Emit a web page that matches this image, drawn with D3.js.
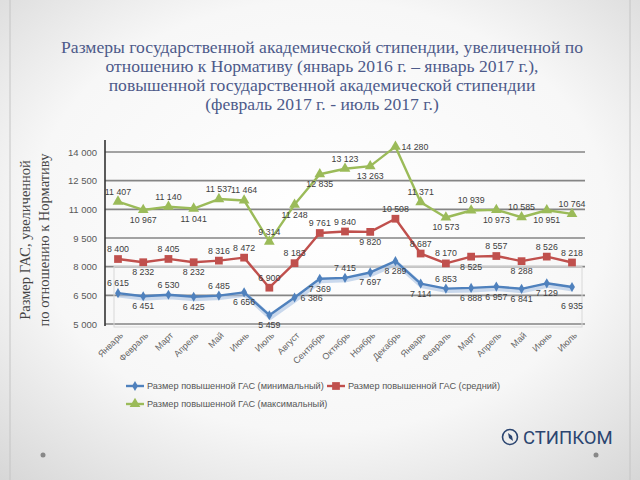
<!DOCTYPE html>
<html><head><meta charset="utf-8">
<script src="https://cdn.jsdelivr.net/npm/d3@7"></script>
<style>html,body{margin:0;padding:0;background:#fff}svg{display:block}</style>
</head><body>
<svg id="c" width="640" height="480"></svg>
<script>
const months = ["Январь","Февраль","Март","Апрель","Май","Июнь","Июль","Август","Сентябрь","Октябрь","Ноябрь","Декабрь","Январь","Февраль","Март","Апрель","Май","Июнь","Июль"];
const minValues = [6615,6451,6530,6425,6485,6656,5459,6386,7369,7415,7697,8289,7114,6853,6888,6957,6841,7129,6935];
const midValues = [8400,8232,8405,8232,8316,8472,6900,8183,9761,9840,9820,10508,8687,8170,8525,8557,8288,8526,8218];
const maxValues = [11407,10967,11140,11041,11537,11464,9314,11248,12835,13123,13263,14280,11371,10573,10939,10973,10585,10951,10764];
const yTicks = [5000,6500,8000,9500,11000,12500,14000];
const seriesNames = ["Размер повышенной ГАС (минимальный)","Размер повышенной ГАС (средний)","Размер повышенной ГАС (максимальный)"];
const titleLines = ["Размеры государственной академической стипендии, увеличенной по","отношению к Нормативу (январь 2016 г. – январь 2017 г.),","повышенной государственной академической стипендии","(февраль 2017 г. - июль 2017 г.)"];
const yTitleLines = ["Размер ГАС, увеличенной","по отношению к Нормативу"];
// label placement: a = above, b = below, r = right, B = far below
const minPlace = ["a","b","a","b","a","b","b","r","b","a","b","b","b","a","b","b","b","b","B"];
const midPlace = ["a","b","a","b","a","a","a","a","a","a","b","a","a","a","b","a","b","a","a"];
const maxPlace = ["a","b","a","b","a","a","a","b","b","a","b","r","a","b","a","b","a","b","a"];

const svg = d3.select("#c");
const defs = svg.append("defs");
const rg = defs.append("radialGradient").attr("id","bg").attr("cx","50%").attr("cy","45%").attr("r","75%");
rg.append("stop").attr("offset","0%").attr("stop-color","#ffffff");
rg.append("stop").attr("offset","60%").attr("stop-color","#f7f7f7");
rg.append("stop").attr("offset","100%").attr("stop-color","#d6d6d6");
svg.append("rect").attr("width",640).attr("height",480).attr("fill","url(#bg)");
svg.append("line").attr("x1",10).attr("x2",10).attr("y1",0).attr("y2",480).attr("stroke","#c4c4c4").attr("stroke-width",1);
svg.append("line").attr("x1",630).attr("x2",630).attr("y1",0).attr("y2",480).attr("stroke","#c4c4c4").attr("stroke-width",1);
svg.append("circle").attr("cx",43).attr("cy",455).attr("r",2.5).attr("fill","#888");
svg.append("circle").attr("cx",596).attr("cy",455).attr("r",2.5).attr("fill","#888");

// title
svg.append("g").selectAll("text").data(titleLines).join("text")
  .attr("x",322).attr("y",(d,i)=>53+i*19).attr("text-anchor","middle")
  .attr("font-family","Liberation Serif, serif").attr("font-size",17.6).attr("fill","#4d5a8a").text(d=>d);

const idx = d3.range(months.length);
const x = d3.scalePoint().domain(idx).range([118,572]);
const y = d3.scaleLinear().domain([5000,14000]).range([324,152]);
const fmt = v => d3.format(",")(v).replace(/,/g," ");

// gridlines
svg.append("g").selectAll("line").data(yTicks).join("line")
  .attr("x1",105).attr("x2",585).attr("y1",d=>y(d)).attr("y2",d=>y(d))
  .attr("stroke","#858585").attr("stroke-width",1.6);
// faint artifact box
svg.append("rect").attr("x",114).attr("y",y(8000)).attr("width",468).attr("height",y(5000)-y(8000)+3)
  .attr("fill","none").attr("stroke","#d8d8d8").attr("stroke-width",1);

// y axis
const yAxis = d3.axisLeft(y).tickValues(yTicks).tickFormat(fmt).tickSize(0).tickPadding(8);
const ga = svg.append("g").attr("transform","translate(105,0)").call(yAxis);
ga.select(".domain").remove();
ga.selectAll("text").attr("font-family","Liberation Sans, sans-serif").attr("font-size",9.5).attr("fill","#595959");
svg.append("line").attr("x1",105).attr("x2",105).attr("y1",140).attr("y2",326).attr("stroke","#333").attr("stroke-width",1.6);

// x axis labels
const xAxis = d3.axisBottom(x).tickFormat(i=>months[i]).tickSize(0).tickPadding(0);
const gx = svg.append("g").attr("transform","translate(0,331)").call(xAxis);
gx.select(".domain").remove();
gx.selectAll("text").attr("font-family","Liberation Sans, sans-serif").attr("font-size",9).attr("fill","#666")
  .attr("text-anchor","end").attr("dy",0).attr("transform","translate(5,5) rotate(-45)");

// y title
svg.append("g").attr("transform","translate(30,240) rotate(-90)").selectAll("text").data(yTitleLines).join("text")
  .attr("x",0).attr("y",(d,i)=>i*19).attr("text-anchor","middle")
  .attr("font-family","Liberation Serif, serif").attr("font-size",14.5).attr("fill","#444").text(d=>d);

const series = [
  {vals:minValues, place:minPlace, color:"#4f81bd", marker:"diamond"},
  {vals:midValues, place:midPlace, color:"#c0504d", marker:"square"},
  {vals:maxValues, place:maxPlace, color:"#9bbb59", marker:"triangle"}
];
const line = d3.line().x((d,i)=>x(i)).y(d=>y(d));
function markerPath(type){
  if(type==="diamond") return d3.symbol(d3.symbolDiamond,30)();
  if(type==="square") return d3.symbol(d3.symbolSquare,60)();
  return d3.symbol(d3.symbolTriangle,50)();
}
series.forEach((s,k)=>{
  const g = svg.append("g");
  if(k===0){
    g.append("path").attr("d",line(s.vals)).attr("fill","none").attr("stroke","#a9c2e2").attr("stroke-width",5).attr("opacity",0.6).attr("transform","translate(1,2)");
  }
  g.append("path").attr("d",line(s.vals)).attr("fill","none").attr("stroke",s.color).attr("stroke-width",2.4).attr("stroke-linejoin","round");
  g.selectAll("path.m").data(s.vals).join("path").attr("class","m")
    .attr("d",markerPath(s.marker)).attr("fill",s.color)
    .attr("transform",(d,i)=>`translate(${x(i)},${y(d)})`);
});
series.forEach(s=>{
  svg.append("g").selectAll("text").data(s.vals).join("text")
    .attr("x",(d,i)=>s.place[i]==="r"? x(i)+6 : x(i))
    .attr("y",(d,i)=>{const p=s.place[i]; return p==="a"? y(d)-7 : p==="b"? y(d)+13 : p==="B"? y(d)+22 : y(d)+3;})
    .attr("text-anchor",(d,i)=>s.place[i]==="r"?"start":"middle")
    .attr("font-family","Liberation Sans, sans-serif").attr("font-size",8.8).attr("fill","#404040")
    .text(d=>fmt(d));
});

// legend
const legendItems = [
  {x:126,y:386,color:"#4f81bd",marker:"diamond",name:seriesNames[0]},
  {x:327,y:386,color:"#c0504d",marker:"square",name:seriesNames[1]},
  {x:126,y:404,color:"#9bbb59",marker:"triangle",name:seriesNames[2]}
];
const lg = svg.append("g").selectAll("g").data(legendItems).join("g").attr("transform",d=>`translate(${d.x},${d.y})`);
lg.append("line").attr("x1",0).attr("x2",18).attr("stroke",d=>d.color).attr("stroke-width",2.4);
lg.append("path").attr("d",d=>markerPath(d.marker)).attr("fill",d=>d.color).attr("transform","translate(9,0)");
lg.append("text").attr("x",21).attr("y",3).attr("font-family","Liberation Sans, sans-serif").attr("font-size",9.2).attr("fill","#555").text(d=>d.name);

// logo
const logo = svg.append("g").attr("transform","translate(510,437)");
logo.append("circle").attr("r",7.5).attr("fill","none").attr("stroke","#2b4570").attr("stroke-width",1.6);
logo.append("path").attr("d","M-2,-4 L2,-1 L3,4 L-1,1 Z").attr("fill","#2b4570");
logo.append("text").attr("x",13).attr("y",6.5).attr("font-family","Roboto, Open Sans, sans-serif").attr("font-size",18.5).attr("font-weight",400).attr("fill","#2b4570").text("СТИПКОМ");
</script>
</body></html>
